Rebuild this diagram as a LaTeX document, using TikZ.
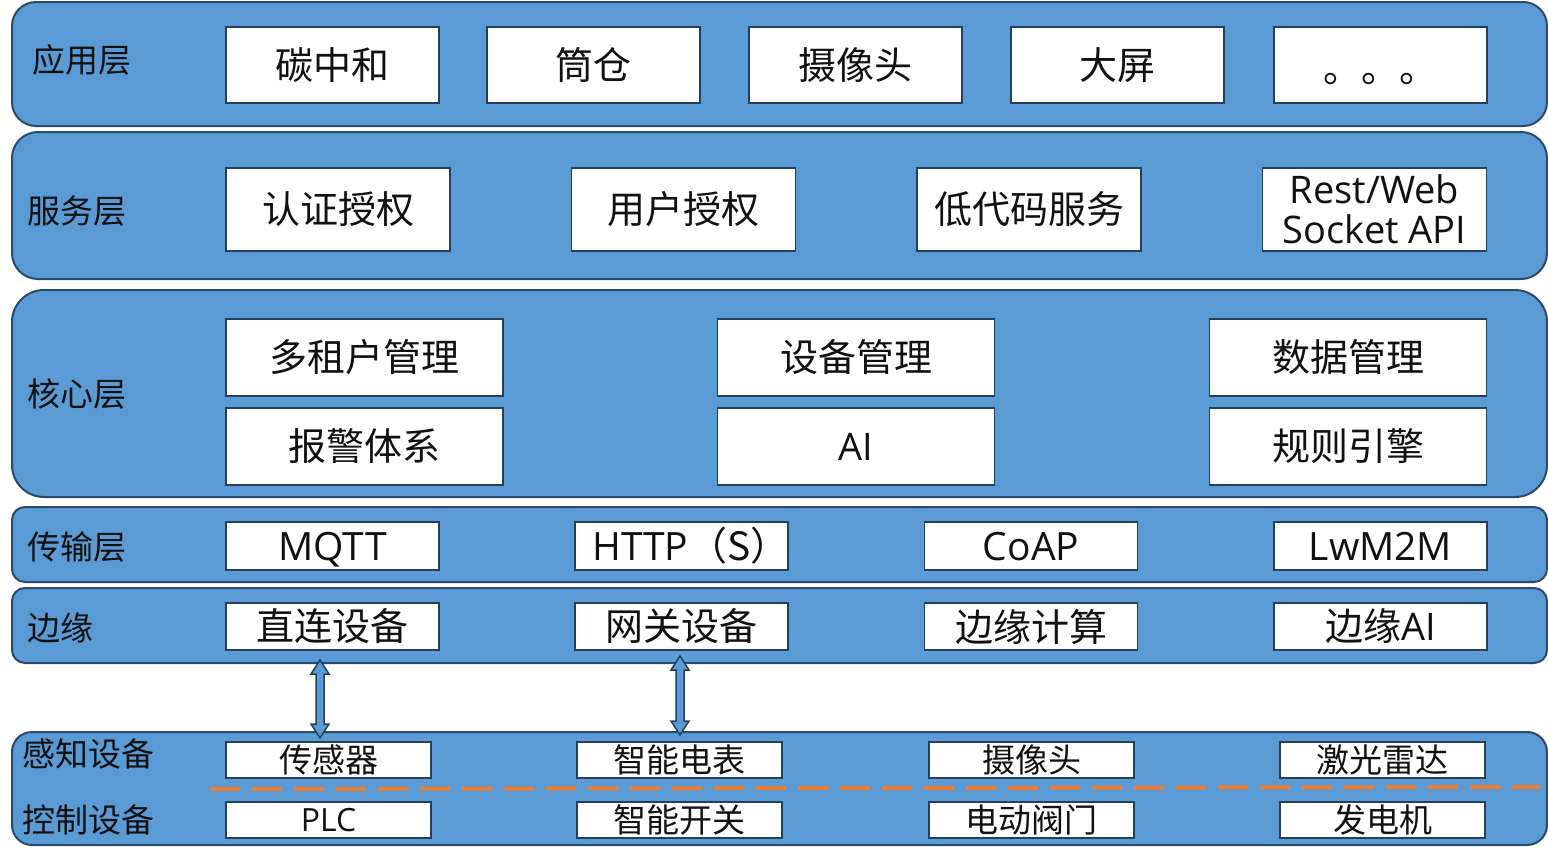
\documentclass[tikz,border=0pt]{standalone}
\usepackage{fontspec}
\setmainfont{Noto Sans CJK SC}
\newfontfamily\lat{Open Sans}
\definecolor{layerfill}{HTML}{5B9BD5}
\definecolor{layerdraw}{HTML}{2A4A6B}
\definecolor{boxdraw}{HTML}{24405E}
\definecolor{dashor}{HTML}{ED7D31}
\definecolor{txt}{HTML}{111111}
\tikzset{
  layer/.style={draw=layerdraw, line width=2pt, fill=layerfill, minimum width=1535pt, inner sep=0pt},
  box/.style={draw=boxdraw, line width=1.8pt, fill=white, inner sep=0pt, text=txt, font=\fontsize{38}{40}\selectfont},
  smallbox/.style={box, minimum width=205pt, minimum height=36pt, font=\fontsize{33}{35}\selectfont},
  lbl/.style={anchor=west, inner sep=0pt, text=txt, font=\fontsize{33}{35}\selectfont},
  arrowbody/.style={draw=boxdraw, line width=1.5pt, fill=layerfill, line join=miter},
  sepline/.style={draw=dashor, line width=4pt, dash pattern=on 30pt off 12pt}
}
\begin{document}
\begin{tikzpicture}[x=1pt,y=-1pt]
\useasboundingbox (0,0) rectangle (1548,860);
% layers
\node[layer, minimum height=124pt, rounded corners=24pt] (L1) at (779.5,64) {};
\node[layer, minimum height=147pt, rounded corners=26pt] (L2) at (779.5,205.5) {};
\node[layer, minimum height=207pt, rounded corners=32pt] (L3) at (779.5,393.5) {};
\node[layer, minimum height=75pt, rounded corners=13pt] (L4) at (779.5,544.5) {};
\node[layer, minimum height=75pt, rounded corners=13pt] (L5) at (779.5,625.5) {};
\node[layer, minimum height=113pt, rounded corners=20pt] (L6) at (779.5,788.5) {};
% labels
\node[lbl] (t1) at (32,60) {应用层};
\node[lbl] (t2) at (27,211) {服务层};
\node[lbl] (t3) at (27,394) {核心层};
\node[lbl] (t4) at (27,547) {传输层};
\node[lbl] (t5) at (27,628) {边缘};
\node[lbl] (t6) at (22,754) {感知设备};
\node[lbl] (t7) at (22,820) {控制设备};
% row 1
\begin{scope}[every node/.style={box, minimum width=213pt, minimum height=76pt}]
\node (a1) at (332.5,65) {碳中和};
\node (a2) at (593.5,65) {筒仓};
\node (a3) at (855.5,65) {摄像头};
\node (a4) at (1117.5,65) {大屏};
\node (a5) at (1380.5,65) {};
\end{scope}
\node[inner sep=0pt, text=txt, font=\fontsize{38}{40}\selectfont] (dots) at (1380,79) {。。。};
% row 2
\begin{scope}[every node/.style={box, minimum width=224pt, minimum height=83pt}]
\node (b1) at (338,209.5) {认证授权};
\node (b2) at (683.5,209.5) {用户授权};
\node (b3) at (1029,209.5) {低代码服务};
\node[align=center, font=\lat\fontsize{38}{40}\selectfont] (b4) at (1374.5,209.5) {Rest/Web\\Socket API};
\end{scope}
% row 3
\begin{scope}[every node/.style={box, minimum width=277pt, minimum height=77pt}]
\node (c1) at (364.5,357.5) {多租户管理};
\node (c2) at (856,357.5) {设备管理};
\node (c3) at (1348,357.5) {数据管理};
\node (c4) at (364.5,446.5) {报警体系};
\node[font=\lat\fontsize{38}{40}\selectfont] (c5) at (856,446.5) {AI};
\node (c6) at (1348,446.5) {规则引擎};
\end{scope}
% row 4
\begin{scope}[every node/.style={box, minimum width=213pt, minimum height=48pt, text height=28pt, text depth=0pt, font=\lat\fontsize{39}{40}\selectfont}]
\node (d1) at (332.5,546) {MQTT};
\node (d2) at (681.5,546) {};
\node (d3) at (1031,546) {CoAP};
\node (d4) at (1380.5,546) {LwM2M};
\end{scope}
\node[inner sep=0pt, text=txt, text height=28pt, text depth=0pt, font=\lat\fontsize{39}{40}\selectfont] (d2t) at (691,546) {HTTP{\rmfamily（S）}};
% row 5
\begin{scope}[every node/.style={box, minimum width=213pt, minimum height=47pt}]
\node (e1) at (332.5,626.5) {直连设备};
\node (e2) at (681.5,626.5) {网关设备};
\node (e3) at (1031,626.5) {边缘计算};
\node (e4) at (1380.5,626.5) {边缘{\lat AI}};
\end{scope}
% rows 6 and 7
\node[smallbox] (f1) at (328.5,760) {传感器};
\node[smallbox] (f2) at (679.5,760) {智能电表};
\node[smallbox] (f3) at (1031.5,760) {摄像头};
\node[smallbox] (f4) at (1382.5,760) {激光雷达};
\node[smallbox, font=\lat\fontsize{32}{34}\selectfont] (g1) at (328.5,820) {PLC};
\node[smallbox] (g2) at (679.5,820) {智能开关};
\node[smallbox] (g3) at (1031.5,820) {电动阀门};
\node[smallbox] (g4) at (1382.5,820) {发电机};
% dashed separator
\coordinate (dl) at (210,789);
\coordinate (dr) at (1540,787);
\draw[sepline] (dl) -- (dr);
% double arrows
\coordinate (p1) at (320,660);
\coordinate (q1) at (320,738);
\draw[arrowbody] (p1) -- ++(9,14) -- ++(-5,0) -- ++(0,50) -- ++(5,0) -- (q1) -- ++(-9,-14) -- ++(5,0) -- ++(0,-50) -- ++(-5,0) -- cycle;
\coordinate (p2) at (680,656);
\coordinate (q2) at (680,735);
\draw[arrowbody] (p2) -- ++(9,14) -- ++(-5,0) -- ++(0,51) -- ++(5,0) -- (q2) -- ++(-9,-14) -- ++(5,0) -- ++(0,-51) -- ++(-5,0) -- cycle;
\end{tikzpicture}
\end{document}
